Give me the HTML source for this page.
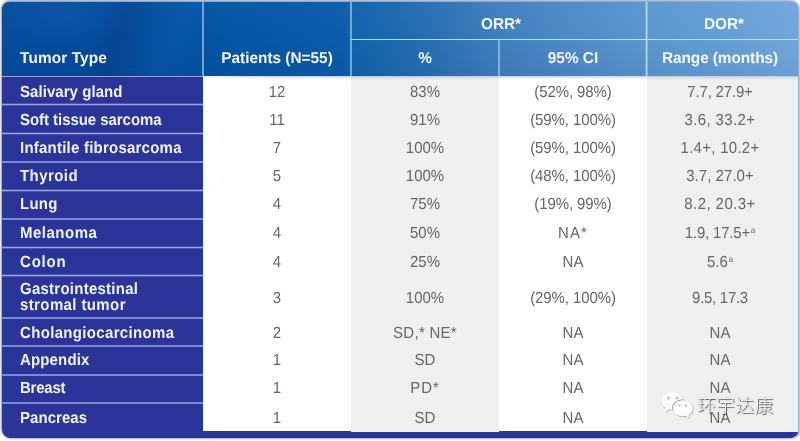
<!DOCTYPE html>
<html lang="en"><head><meta charset="utf-8"><title>ORR / DOR by tumor type</title>
<style>
html,body{margin:0;padding:0;}
body{width:800px;height:441px;overflow:hidden;background:#fff;position:relative;font-family:"Liberation Sans","Noto Sans CJK SC",sans-serif;}
#tbl{position:absolute;left:2px;top:2px;width:796px;height:436px;border-radius:8px 8px 9px 9px / 8px 8px 6.5px 9px;overflow:hidden;background:linear-gradient(90deg,rgb(5,76,157),rgb(112,167,220)) top/100% 74px no-repeat,linear-gradient(#2b3498,#2b3498) bottom/100% 7px no-repeat,#fff;box-shadow:0 -1px 2px 0.6px rgba(110,140,185,.62),1px 0 2px 0.5px rgba(120,145,180,.5),-1px 0 2px 0 rgba(150,140,175,.3);}
#tbl>div{position:absolute;}
.hdr{left:0;top:0;width:796px;height:74px;background:
 linear-gradient(180deg,rgba(255,255,255,.025) 0,rgba(255,255,255,0) 50%,rgba(0,0,40,.05) 100%),
 linear-gradient(90deg,rgb(5,76,157) 0px,rgb(3,76,156) 100px,rgb(4,83,163) 200px,rgb(11,92,169) 340px,rgb(18,98,172) 352px,rgb(38,110,178) 425px,rgb(64,127,190) 498px,rgb(78,139,199) 572px,rgb(90,150,207) 648px,rgb(101,158,213) 722px,rgb(112,167,220) 796px);}
.sheen{left:0;top:0;width:201px;height:74px;background:radial-gradient(ellipse 55px 30px at 58px 16px,rgba(30,110,195,.22),rgba(30,110,195,0) 100%),linear-gradient(112deg,rgba(0,25,90,0) 100px,rgba(0,25,90,.13) 122px,rgba(0,25,90,0) 146px,rgba(40,120,200,.10) 170px,rgba(40,120,200,0) 205px);}
.hl{background:rgba(165,210,250,.8);}
.navy{left:0;top:74px;width:201px;height:363px;background:#2b3498;}
.band{left:0;top:429.5px;width:796px;height:7px;background:#2b3498;}
.g{background:#eeefef;}
.rl{left:0;width:201px;height:1px;background:#98a2de;}
.rl2{left:0;width:201px;height:2px;background:rgba(160,172,235,.72);}
.rl3{left:0;width:201px;height:3px;background:linear-gradient(180deg,rgba(160,172,235,.28) 0,rgba(160,172,235,.28) 33.3%,rgba(160,172,235,.95) 33.4%,rgba(160,172,235,.95) 66.6%,rgba(160,172,235,.28) 66.7%,rgba(160,172,235,.28) 100%);}
.th{color:#f3f8fe;font-weight:bold;font-size:15.7px;line-height:20px;height:20px;white-space:nowrap;}
.th{transform:matrix(.981,0,.0008,1,0,0);transform-origin:0 0}.thc{transform:translateX(-50%) matrix(.981,0,.0008,1,0,0);transform-origin:50% 50%}
.rh{left:18.2px;color:#f1f3ff;font-weight:bold;font-size:16.1px;line-height:17px;white-space:nowrap;transform:matrix(.932,0,.0008,1,0,0);transform-origin:0 0;}
.td{color:#666;font-size:16.1px;line-height:20px;height:20px;white-space:nowrap;transform:translateX(-50%) matrix(.932,0,.0008,1,0,0);}
.td sup{font-size:8.8px;line-height:0;vertical-align:baseline;position:relative;top:-4.6px;margin-left:.6px;letter-spacing:0}
.shadow{left:201px;top:74px;width:595px;height:4px;background:linear-gradient(180deg,rgba(140,172,212,.55),rgba(150,175,205,.18) 55%,rgba(150,175,205,0));-webkit-mask-image:linear-gradient(90deg,rgba(0,0,0,.25) 0,#000 70px);mask-image:linear-gradient(90deg,rgba(0,0,0,.25) 0,#000 70px);}
#wm{position:absolute;left:697.2px;top:393.6px;font-family:"Liberation Sans","Noto Sans CJK SC","WenQuanYi Zen Hei",sans-serif;font-size:18.5px;letter-spacing:.65px;font-weight:300;line-height:24px;color:#fff;white-space:nowrap;text-shadow:1px 1px 0.8px rgba(60,60,60,.9),0 0 1px rgba(90,90,90,.5);}
#wc{position:absolute;left:655px;top:386px;width:60px;height:38px;}
</style></head><body>
<div id="tbl">

<div class="hdr"></div>
<div class="sheen"></div>
<div class="g" style="left:349px;top:74px;width:147.5px;height:356px"></div>
<div class="g" style="left:645px;top:74px;width:151px;height:356px"></div>
<div class="shadow"></div>
<div class="navy"></div>
<div class="band"></div>
<div class="hl" style="left:200px;top:0px;width:2px;height:74px;opacity:.8"></div>
<div class="hl" style="left:348px;top:0px;width:2px;height:74px;opacity:.8"></div>
<div class="hl" style="left:496px;top:37.5px;width:2px;height:36.5px;opacity:.8"></div>
<div style="left:643px;top:0;width:3px;height:74px;background:linear-gradient(90deg,rgba(185,222,250,.25) 0,rgba(185,222,250,.25) 33.3%,rgba(185,222,250,.92) 33.4%,rgba(185,222,250,.92) 66.6%,rgba(185,222,250,.45) 66.7%,rgba(185,222,250,.45) 100%)"></div>
<div class="hl" style="left:349px;top:37px;width:447px;height:1px;background:rgba(190,232,252,.92)"></div>
<div class="rl" style="top:73.5px;height:1.2px"></div>
<div class="rl3" style="top:101px"></div>
<div class="rl3" style="top:130px"></div>
<div class="rl2" style="top:159px"></div>
<div class="rl3" style="top:187px"></div>
<div class="rl2" style="top:216px"></div>
<div class="rl3" style="top:244px"></div>
<div class="rl3" style="top:272px"></div>
<div class="rl2" style="top:315px"></div>
<div class="rl2" style="top:343px"></div>
<div class="rl2" style="top:372px"></div>
<div class="rl2" style="top:400px"></div>
<div class="th" style="left:18.3px;top:45.96px;letter-spacing:0.12px">Tumor Type</div>
<div class="th thc" style="left:274.8px;top:45.96px">Patients (N=55)</div>
<div class="th thc" style="left:499px;top:12.06px">ORR*</div>
<div class="th thc" style="left:721.5px;top:12.06px">DOR*</div>
<div class="th thc" style="left:422.75px;top:45.96px">%</div>
<div class="th thc" style="left:570.5px;top:45.96px">95% CI</div>
<div class="th thc" style="left:718.4px;top:45.96px;letter-spacing:-0.09px">Range (months)</div>
<div class="rh" style="top:78.82px;line-height:20px;letter-spacing:0.061px">Salivary gland</div>
<div class="td" style="left:275.3px;top:78.82px">12</div>
<div class="td" style="left:423px;top:78.82px">83%</div>
<div class="td" style="left:570.75px;top:78.82px;letter-spacing:-0.1px">(52%, 98%)</div>
<div class="td" style="left:718.4px;top:78.82px;letter-spacing:-0.2px">7.7, 27.9+</div>
<div class="rh" style="top:106.92px;line-height:20px;letter-spacing:-0.056px">Soft tissue sarcoma</div>
<div class="td" style="left:275.3px;top:106.92px">11</div>
<div class="td" style="left:423px;top:106.92px">91%</div>
<div class="td" style="left:570.75px;top:106.92px;letter-spacing:-0.1px">(59%, 100%)</div>
<div class="td" style="left:718.4px;top:106.92px;letter-spacing:0.4px">3.6, 33.2+</div>
<div class="rh" style="top:135.02px;line-height:20px;letter-spacing:0.244px">Infantile fibrosarcoma</div>
<div class="td" style="left:275.3px;top:135.02px">7</div>
<div class="td" style="left:423px;top:135.02px">100%</div>
<div class="td" style="left:570.75px;top:135.02px;letter-spacing:-0.1px">(59%, 100%)</div>
<div class="td" style="left:718.4px;top:135.02px;letter-spacing:0.3px">1.4+, 10.2+</div>
<div class="rh" style="top:163.12px;line-height:20px;letter-spacing:0.460px">Thyroid</div>
<div class="td" style="left:275.3px;top:163.12px">5</div>
<div class="td" style="left:423px;top:163.12px">100%</div>
<div class="td" style="left:570.75px;top:163.12px;letter-spacing:-0.1px">(48%, 100%)</div>
<div class="td" style="left:718.4px;top:163.12px;letter-spacing:0.05px">3.7, 27.0+</div>
<div class="rh" style="top:191.42px;line-height:20px;letter-spacing:0.268px">Lung</div>
<div class="td" style="left:275.3px;top:191.42px">4</div>
<div class="td" style="left:423px;top:191.42px">75%</div>
<div class="td" style="left:570.75px;top:191.42px;letter-spacing:-0.1px">(19%, 99%)</div>
<div class="td" style="left:718.4px;top:191.42px;letter-spacing:0.45px">8.2, 20.3+</div>
<div class="rh" style="top:220.42px;line-height:20px;letter-spacing:0.536px">Melanoma</div>
<div class="td" style="left:275.3px;top:220.42px">4</div>
<div class="td" style="left:423px;top:220.42px">50%</div>
<div class="td" style="left:570.75px;top:220.42px;letter-spacing:1.2px">NA*</div>
<div class="td" style="left:718.4px;top:220.42px;letter-spacing:-0.2px">1.9, 17.5+<sup>a</sup></div>
<div class="rh" style="top:248.92px;line-height:20px;letter-spacing:0.858px">Colon</div>
<div class="td" style="left:275.3px;top:248.92px">4</div>
<div class="td" style="left:423px;top:248.92px">25%</div>
<div class="td" style="left:570.75px;top:248.92px">NA</div>
<div class="td" style="left:718.4px;top:248.92px;letter-spacing:0px">5.6<sup>a</sup></div>
<div class="rh" style="top:277.52px;letter-spacing:0.268px">Gastrointestinal</div>
<div class="rh" style="top:293.52px;letter-spacing:0.413px">stromal tumor</div>
<div class="td" style="left:275.3px;top:285.22px">3</div>
<div class="td" style="left:423px;top:285.22px">100%</div>
<div class="td" style="left:570.75px;top:285.22px;letter-spacing:-0.1px">(29%, 100%)</div>
<div class="td" style="left:718.4px;top:285.22px;letter-spacing:-0.3px">9.5, 17.3</div>
<div class="rh" style="top:319.72px;line-height:20px;letter-spacing:0.358px">Cholangiocarcinoma</div>
<div class="td" style="left:275.3px;top:319.72px">2</div>
<div class="td" style="left:423px;top:319.72px;letter-spacing:0.3px">SD,* NE*</div>
<div class="td" style="left:570.75px;top:319.72px">NA</div>
<div class="td" style="left:718.4px;top:319.72px">NA</div>
<div class="rh" style="top:346.52px;line-height:20px;letter-spacing:0.161px">Appendix</div>
<div class="td" style="left:275.3px;top:346.52px">1</div>
<div class="td" style="left:423px;top:346.52px">SD</div>
<div class="td" style="left:570.75px;top:346.52px">NA</div>
<div class="td" style="left:718.4px;top:346.52px">NA</div>
<div class="rh" style="top:375.02px;line-height:20px;letter-spacing:-0.250px">Breast</div>
<div class="td" style="left:275.3px;top:375.02px">1</div>
<div class="td" style="left:423px;top:375.02px;letter-spacing:1px">PD*</div>
<div class="td" style="left:570.75px;top:375.02px">NA</div>
<div class="td" style="left:718.4px;top:375.02px">NA</div>
<div class="rh" style="top:405.02px;line-height:20px;letter-spacing:0.054px">Pancreas</div>
<div class="td" style="left:275.3px;top:405.02px">1</div>
<div class="td" style="left:423px;top:405.02px">SD</div>
<div class="td" style="left:570.75px;top:405.02px">NA</div>
<div class="td" style="left:718.4px;top:405.02px">NA</div>
</div>
<svg id="wc" viewBox="0 0 60 38">
<defs><filter id="ds" x="-20%" y="-20%" width="150%" height="150%"><feDropShadow dx="0.6" dy="0.7" stdDeviation="0.55" flood-color="#555" flood-opacity=".6"/></filter>
<clipPath id="bigc"><ellipse cx="17.5" cy="14.8" rx="11" ry="8.9"/></clipPath></defs>
<g filter="url(#ds)" fill="#fbfbfb">
<path d="M17.5 5.9c6.1 0 11 4 11 8.9s-4.900 8.900-11 8.900c-1.300 0-2.600-.200-3.700-.500l-3.600 3.100.700-4.300C8.200 20.400 6.500 17.800 6.500 14.800c0-4.900 4.900-8.900 11-8.900z"/>
</g>
<ellipse cx="27.800" cy="22.200" rx="10.700" ry="9" fill="#a2a2a2" clip-path="url(#bigc)"/>
<g filter="url(#ds)" fill="#fbfbfb">
<path d="M27.8 14.200c5.400 0 9.700 3.600 9.700 8s-1.500 5.100-3.800 6.500l.4 3.600-3.100-2.600c-1 .3-2.100.5-3.200.5-5.400 0-9.700-3.600-9.700-8s4.300-8 9.700-8z"/>
</g>
<g fill="#c4c4c4"><circle cx="13.400" cy="12.100" r="1.500"/><circle cx="22" cy="12.100" r="1.500"/><circle cx="24.400" cy="19.500" r="1.200"/><circle cx="31" cy="19.500" r="1.200"/></g>
</svg>
<div id="wm">环宇达康</div>
</body></html>
